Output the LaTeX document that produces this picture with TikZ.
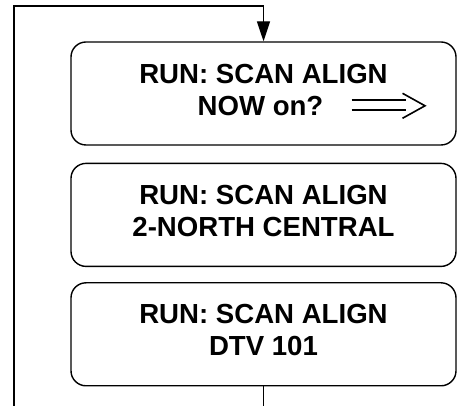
\documentclass[tikz,border=0pt]{standalone}
\usepackage{fontspec}
\setmainfont{Liberation Sans}
\usetikzlibrary{positioning,arrows.meta,calc}
\newcommand{\lowstrut}{\rule[-8pt]{0pt}{8pt}}

\begin{document}
\begin{tikzpicture}[x=1pt, y=1pt, line width=1.4pt,
                        screen/.style={draw, rounded corners=15pt, align=center,
                            minimum width=385pt, minimum height=103pt,
                            font=\fontsize{27.6}{32}\selectfont\bfseries},
                        loop/.style={-{Triangle[length=20pt,width=13pt]}}]
        \useasboundingbox (0,0) rectangle (457,406);
        \node[screen] (scan) at (263.5,312.5) {RUN: SCAN ALIGN\\ \hspace*{-6pt}NOW on?\lowstrut};
        \node[screen, below=17pt of scan] (north) {RUN: SCAN ALIGN\\ 2-NORTH CENTRAL\lowstrut};
        \node[screen, below=15pt of north] (dtv) {RUN: SCAN ALIGN\\ DTV 101\lowstrut};
        \coordinate (looptop) at (14,400);
        \coordinate (loopbot) at (14,0);
        \draw (dtv.south) -- (dtv.south |- loopbot);
        \draw[loop] (loopbot) -- (looptop) -| (scan.north);
        \draw[line width=2.2pt] ($(scan.center)+(88,-6.5)$) -- ($(scan.center)+(142,-6.5)$)
            ($(scan.center)+(88,-16.5)$) -- ($(scan.center)+(142,-16.5)$);
        \draw[line width=1.6pt] ($(scan.center)+(139,0.2)$) -- ($(scan.center)+(161.5,-12.3)$)
            -- ($(scan.center)+(139,-24.8)$);
    \end{tikzpicture}
\end{document}
